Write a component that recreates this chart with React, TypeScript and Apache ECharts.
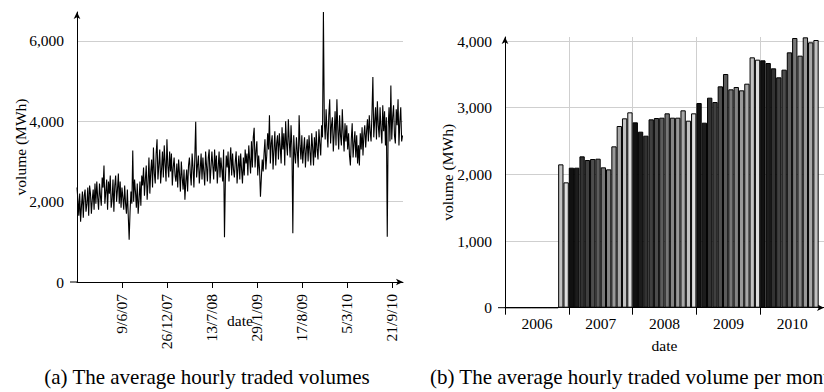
import { useEffect, useRef } from 'react';
import * as echarts from 'echarts';

// Daily series: one reading every STEP_DAYS days, day 0 = 21 Nov 2006
const SERIES_START = new Date(2006, 10, 21);
const STEP_DAYS = 4;
const hourlyVolume: number[] = [
  // days 0–96
  2350, 2050, 1650, 2200, 1500, 1900, 2250, 1600, 2150, 2300, 1750, 1950, 2350, 1650, 2400, 2200, 1700, 2050, 2300, 1800, 2450, 1950, 2500, 2100, 1800,
  // days 100–196
  2450, 2150, 1900, 2600, 2350, 2900, 1950, 2250, 2550, 1800, 2500, 2200, 2650, 1850, 2050, 2550, 1750, 2400, 2650, 2000, 2300, 2700, 1950, 2500, 1850,
  // days 200–296
  2350, 2100, 1800, 2400, 1950, 1700, 2300, 1650, 1050, 1750, 2250, 1950, 3275, 2000, 2550, 2250, 1850, 2450, 1700, 2050, 2500, 1900, 2650, 2400, 2850,
  // days 300–396
  2150, 2550, 2900, 2050, 2450, 3100, 2200, 2750, 3050, 2350, 3350, 2700, 2450, 3200, 3550, 2550, 2900, 3300, 2450, 2800, 3250, 2600, 3400, 2950, 2500,
  // days 400–496
  3550, 2900, 2600, 3250, 2750, 3200, 2400, 2850, 3100, 2650, 2500, 2950, 2350, 3050, 2700, 2250, 3000, 2600, 2300, 2800, 2050, 2500, 2800, 2250, 2900,
  // days 500–596
  3100, 2700, 2400, 3200, 2850, 2350, 3100, 3990, 2600, 2900, 3150, 2450, 2800, 3200, 2550, 3100, 2750, 2400, 3250, 2900, 2500, 3100, 3300, 2450, 2850,
  // days 600–696
  3250, 2900, 2550, 3300, 2750, 3150, 2450, 2850, 3250, 2600, 3100, 2800, 2500, 3300, 1115, 2550, 3150, 2850, 3250, 2500, 3000, 3350, 2650, 3200, 2800,
  // days 700–796
  2600, 3000, 3250, 2450, 2850, 3150, 2550, 3200, 2800, 2450, 3100, 2650, 3300, 2950, 3200, 2650, 3400, 3050, 2700, 3500, 2850, 3600, 3840, 2850, 3250,
  // days 800–896
  3500, 2650, 3150, 2800, 2125, 2600, 3050, 2750, 3200, 3550, 2800, 3150, 3700, 3300, 4150, 2950, 3450, 3650, 2800, 3300, 3750, 2900, 3450, 3650, 3050,
  // days 900–996
  3700, 3350, 2950, 3850, 3300, 3700, 2900, 4000, 3450, 3150, 4050, 3500, 3100, 3900, 3350, 1215, 3650, 3200, 2950, 3600, 3250, 2850, 4150, 3400, 3050,
  // days 1000–1096
  3650, 2950, 3300, 3600, 2850, 3300, 3550, 3000, 3650, 3250, 2900, 3700, 3350, 2900, 3600, 3100, 3750, 3300, 3050, 3800, 3450, 3150, 3900, 3600, 6720,
  // days 1100–1196
  4000, 3550, 4300, 3750, 3350, 4150, 4550, 3450, 3900, 4100, 3250, 3700, 4250, 3400, 4550, 3800, 3300, 4150, 3650, 3400, 4300, 3700, 3250, 3950, 3500,
  // days 1200–1296
  3900, 3300, 3700, 3150, 2900, 3550, 3950, 3100, 3450, 3750, 3100, 3650, 2950, 3400, 2900, 3700, 3300, 3850, 3150, 3650, 3900, 3350, 3750, 4050, 3500,
  // days 1300–1396
  4150, 3750, 3500, 4200, 5100, 3600, 4000, 4350, 3550, 4500, 3900, 3600, 4350, 3800, 3450, 4400, 3750, 4250, 3400, 4100, 1125, 3850, 4350, 3500, 4890,
  // days 1400–1448
  3550, 4100, 4400, 3650, 3450, 4300, 3900, 4550, 3400, 4000, 4350, 3500, 3650,
];
const DAY_AXIS_MAX = 1450;
const dateTicks = [200, 400, 600, 800, 1000, 1200, 1400];
const dailyVolumeTicks = [0, 2000, 4000, 6000];
const DAILY_VOLUME_MAX = 6720;

// Monthly averages, Jan 2006 – Dec 2010
const years = [2006, 2007, 2008, 2009, 2010];
const months = ['01', '02', '03', '04', '05', '06', '07', '08', '09', '10', '11', '12'];
const monthlyVolume: (number | null)[] = [
  0, 0, 0, 0, 0, 0, 0, 0, 0, 0, 2150, 1880,
  2100, 2100, 2270, 2215, 2230, 2235, 2105, 2075, 2420, 2725, 2840, 2930,
  2780, 2640, 2580, 2825, 2845, 2850, 2915, 2850, 2850, 2960, 2805, 2915,
  3070, 2775, 3150, 3085, 3320, 3505, 3275, 3310, 3260, 3360, 3755, 3720,
  3710, 3670, 3590, 3455, 3570, 3830, 4045, 3780, 4055, 3980, 4015, null,
];
const monthlyVolumeTicks = [0, 1000, 2000, 3000, 4000];
const MONTHLY_VOLUME_MAX = 4060;
const monthShades = [
  '#111111', '#1c1c1c', '#333333', '#404040', '#4d4d4d', '#5c5c5c',
  '#777777', '#858585', '#999999', '#a8a8a8', '#c2c2c2', '#dedede',
];

const FONT = 'Liberation Serif';
const GRID_COLOR = '#cfcfcf';

const monthCategories = years.flatMap((y) => months.map((m) => `${y}-${m}`));

function formatDay(v: number): string {
  const d = new Date(SERIES_START.getTime());
  d.setDate(d.getDate() + v);
  return `${d.getDate()}/${d.getMonth() + 1}/${String(d.getFullYear()).slice(2)}`;
}

const thousands = (v: number) => v.toLocaleString('en-US');

const arrowLine = {
  show: true,
  lineStyle: { color: '#000', width: 1 },
  symbol: ['none', 'arrow'],
  symbolSize: [5, 7],
};

const labelText = { fontFamily: FONT, fontSize: 15.5, color: '#000' };

export default function App() {
  const ref = useRef<HTMLDivElement>(null);

  useEffect(() => {
    if (!ref.current) return;
    const chart = echarts.init(ref.current, undefined, { renderer: 'svg' });

    chart.setOption({
      animation: false,
      textStyle: { fontFamily: FONT, color: '#000' },
      grid: [
        { left: 77, top: 12, width: 326, height: 270 },
        { left: 505, top: 37, width: 326.5, height: 270.7 },
      ],
      xAxis: [
        {
          gridIndex: 0,
          type: 'value',
          min: 0,
          max: DAY_AXIS_MAX,
          interval: 200,
          axisLine: arrowLine,
          axisTick: { show: true, customValues: dateTicks, length: 6, lineStyle: { color: '#000' } },
          axisLabel: { ...labelText, customValues: dateTicks, rotate: 90, margin: 12, formatter: formatDay },
          splitLine: { show: false },
          name: 'date',
          nameLocation: 'middle',
          nameGap: 30,
          nameMoveOverlap: false,
          nameTextStyle: { ...labelText },
        },
        {
          gridIndex: 1,
          type: 'category',
          data: monthCategories,
          boundaryGap: true,
          axisLine: arrowLine,
          axisTick: { show: true, interval: 11, length: 7, lineStyle: { color: '#000' } },
          axisLabel: {
            ...labelText,
            interval: (i: number) => i % 12 === 5,
            formatter: (v: string) => v.slice(0, 4),
            padding: [0, 0, 0, 5.44],
            margin: 8,
          },
          splitLine: { show: true, interval: 11, lineStyle: { color: GRID_COLOR, width: 1 } },
          name: 'date',
          nameLocation: 'middle',
          nameGap: 30,
          nameMoveOverlap: false,
          nameTextStyle: { ...labelText },
        },
      ],
      yAxis: [
        {
          gridIndex: 0,
          type: 'value',
          min: 0,
          max: DAILY_VOLUME_MAX,
          interval: 2000,
          axisLine: arrowLine,
          axisTick: { show: false, customValues: dailyVolumeTicks },
          axisLabel: { ...labelText, customValues: dailyVolumeTicks, margin: 13, formatter: thousands },
          splitLine: { show: true, lineStyle: { color: GRID_COLOR, width: 1 } },
          name: 'volume (MWh)',
          nameLocation: 'middle',
          nameGap: 49,
          nameMoveOverlap: false,
          nameTextStyle: { ...labelText },
        },
        {
          gridIndex: 1,
          type: 'value',
          min: 0,
          max: MONTHLY_VOLUME_MAX,
          interval: 1000,
          axisLine: arrowLine,
          axisTick: { show: false, customValues: monthlyVolumeTicks },
          axisLabel: { ...labelText, customValues: monthlyVolumeTicks, margin: 13, formatter: thousands },
          splitLine: { show: true, lineStyle: { color: GRID_COLOR, width: 1 } },
          name: 'volume (MWh)',
          nameLocation: 'middle',
          nameGap: 50,
          nameMoveOverlap: false,
          nameTextStyle: { ...labelText },
        },
      ],
      series: [
        {
          type: 'line',
          xAxisIndex: 0,
          yAxisIndex: 0,
          data: hourlyVolume.map((v, i) => [i * STEP_DAYS, v]),
          symbol: 'none',
          silent: true,
          lineStyle: { color: '#000', width: 1.1 },
          z: 3,
        },
        {
          type: 'bar',
          xAxisIndex: 1,
          yAxisIndex: 1,
          data: monthlyVolume,
          barCategoryGap: '0%',
          silent: true,
          itemStyle: {
            color: (p: any) => monthShades[p.dataIndex % 12],
            borderColor: '#000',
            borderWidth: 1,
          },
          z: 3,
        },
      ],
    });

    // Short stubs extending the x axes to the left of each origin
    const o0 = chart.convertToPixel({ xAxisIndex: 0, yAxisIndex: 0 }, [0, 0]) as number[];
    const o1 = chart.convertToPixel({ xAxisIndex: 1, yAxisIndex: 1 }, [0, 0]) as number[];
    const x1Start = 505;
    chart.setOption({
      graphic: [
        {
          id: 'stubA',
          type: 'line',
          shape: { x1: o0[0] - 7, y1: o0[1], x2: o0[0], y2: o0[1] },
          style: { stroke: '#000', lineWidth: 1 },
        },
        {
          id: 'stubB',
          type: 'line',
          shape: { x1: x1Start - 7, y1: o1[1], x2: x1Start, y2: o1[1] },
          style: { stroke: '#000', lineWidth: 1 },
        },
        {
          id: 'captionA',
          type: 'text',
          x: 207,
          y: 377,
          style: {
            text: '(a) The average hourly traded volumes',
            fontFamily: FONT,
            fontSize: 21,
            fill: '#000',
            align: 'center',
            verticalAlign: 'middle',
          },
        },
        {
          id: 'captionB',
          type: 'text',
          x: 430,
          y: 377,
          style: {
            text: '(b) The average hourly traded volume per month',
            fontFamily: FONT,
            fontSize: 21,
            fill: '#000',
            align: 'left',
            verticalAlign: 'middle',
          },
        },
      ],
    });

    return () => chart.dispose();
  }, []);

  return (
    <div
      ref={ref}
      style={{ position: 'fixed', left: 0, top: 0, width: 824, height: 392, background: '#fff' }}
    />
  );
}
